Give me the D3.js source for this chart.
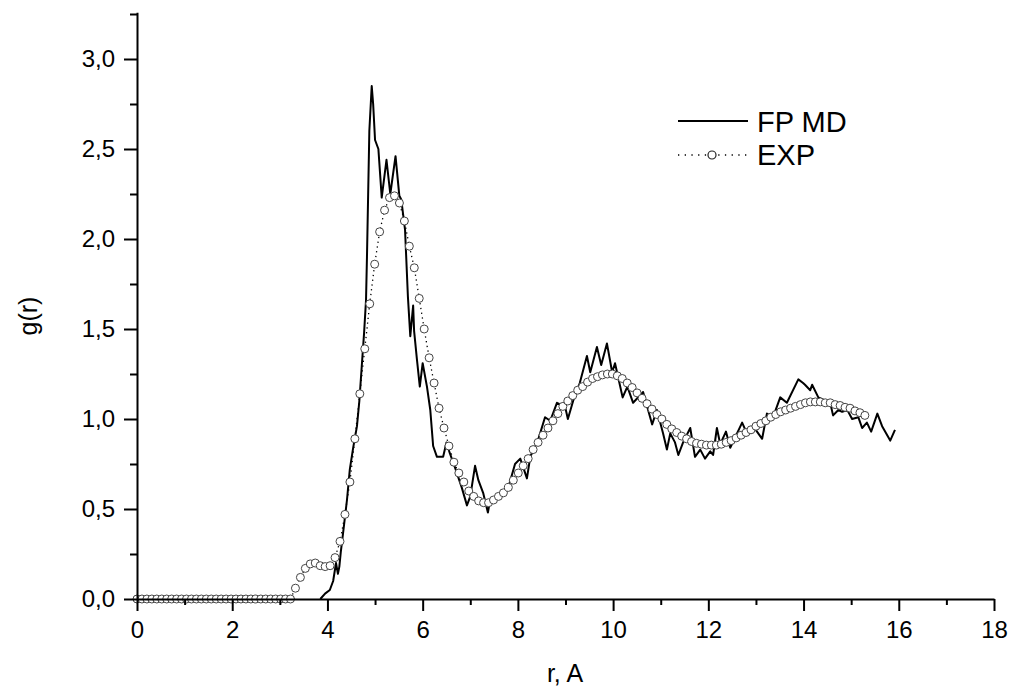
<!DOCTYPE html>
<html>
<head>
<meta charset="utf-8">
<script src="https://cdn.jsdelivr.net/npm/d3@7"></script>
<style>
  body { margin: 0; background: #fff; }
  text { font-family: "Liberation Sans", Arial, sans-serif; fill: #000; }
</style>
</head>
<body>
<script>
var width = 1009;
var height = 690;

// FP MD (simulation) curve, r in A
var mdR = [3.85, 3.95, 4.05, 4.12, 4.18, 4.22, 4.25, 4.28, 4.33, 4.41, 4.47, 4.54, 4.62, 4.67, 4.72, 4.77, 4.81,
  4.83, 4.88, 4.93, 4.96, 5.0, 5.07, 5.14, 5.24, 5.32, 5.43, 5.51, 5.55, 5.63, 5.69, 5.74, 5.8, 5.82, 5.88, 5.94,
  6.0, 6.09, 6.16, 6.22, 6.3, 6.43, 6.5, 6.57, 6.68, 6.82, 6.93, 7.0, 7.1, 7.17, 7.27, 7.37, 7.41, 7.59, 7.8,
  7.94, 8.05, 8.19, 8.26, 8.42, 8.57, 8.68, 8.82, 8.99, 9.05, 9.16, 9.3, 9.45, 9.52, 9.66, 9.75, 9.87, 9.98,
  10.04, 10.2, 10.3, 10.42, 10.63, 10.82, 10.92, 11.05, 11.13, 11.2, 11.3, 11.37, 11.47, 11.62, 11.72, 11.83,
  11.93, 12.04, 12.1, 12.18, 12.25, 12.37, 12.46, 12.71, 12.81, 12.94, 13.13, 13.23, 13.36, 13.51, 13.65,
  13.89, 13.99, 14.03, 14.14, 14.18, 14.31, 14.56, 14.62, 14.73, 14.81, 14.92, 15.02, 15.15, 15.23, 15.33,
  15.42, 15.55, 15.65, 15.82, 15.92];
var mdG = [0, 0.03, 0.05, 0.1, 0.2, 0.14, 0.18, 0.26, 0.37, 0.55, 0.72, 0.84, 0.96, 1.1, 1.29, 1.48, 1.66,
  1.9, 2.6, 2.85, 2.75, 2.55, 2.5, 2.23, 2.44, 2.25, 2.46, 2.24, 2.22, 2.05, 1.68, 1.46, 1.63, 1.49, 1.33, 1.18,
  1.31, 1.18, 1.05, 0.85, 0.79, 0.79, 0.87, 0.81, 0.73, 0.62, 0.52, 0.57, 0.74, 0.66, 0.59, 0.48, 0.54, 0.57, 0.62,
  0.75, 0.78, 0.67, 0.79, 0.88, 1.01, 0.99, 1.09, 1.07, 1.0, 1.1, 1.2, 1.35, 1.26, 1.4, 1.3, 1.42, 1.26,
  1.31, 1.12, 1.18, 1.09, 1.15, 0.97, 1.05, 0.92, 0.83, 0.92, 0.87, 0.8, 0.87, 0.95, 0.79, 0.83,
  0.78, 0.82, 0.8, 0.95, 0.86, 0.93, 0.84, 0.98, 0.92, 0.96, 0.89, 1.03, 1.01, 1.12, 1.09,
  1.22, 1.2, 1.19, 1.16, 1.19, 1.12, 1.09, 1.02, 1.05, 1.04, 1.05, 1.0, 1.01, 0.95, 0.98,
  0.93, 1.03, 0.96, 0.88, 0.94];

// EXP points, sampled every 0.104 A from r = 0
var expStep = 0.104;
var expG = [0, 0, 0, 0, 0, 0, 0, 0, 0, 0, 0, 0, 0, 0, 0, 0, 0, 0, 0, 0, 0, 0, 0, 0, 0, 0, 0, 0, 0, 0, 0, 0,
  0.06, 0.12, 0.17, 0.195, 0.2, 0.185, 0.18, 0.185, 0.23, 0.32, 0.47, 0.65, 0.89, 1.14, 1.39, 1.64, 1.86,
  2.04, 2.16, 2.23, 2.24, 2.2, 2.1, 1.96, 1.84, 1.67, 1.5, 1.34, 1.2, 1.06, 0.95, 0.85, 0.76, 0.7, 0.65, 0.6,
  0.57, 0.545, 0.535, 0.535, 0.55, 0.57, 0.59, 0.62, 0.66, 0.7, 0.74, 0.78, 0.83, 0.87, 0.91, 0.95, 0.99,
  1.03, 1.07, 1.1, 1.13, 1.16, 1.18, 1.205, 1.225, 1.235, 1.245, 1.25, 1.25, 1.24, 1.225, 1.2, 1.175, 1.145,
  1.115, 1.085, 1.055, 1.025, 1.0, 0.97, 0.945, 0.925, 0.905, 0.89, 0.875, 0.865, 0.86, 0.855, 0.855, 0.855,
  0.86, 0.87, 0.88, 0.895, 0.91, 0.925, 0.94, 0.96, 0.975, 0.99, 1.01, 1.025, 1.04, 1.05, 1.06, 1.07, 1.08,
  1.09, 1.095, 1.095, 1.095, 1.09, 1.09, 1.08, 1.075, 1.065, 1.06, 1.045, 1.035, 1.02];

var xMajor = [0, 2, 4, 6, 8, 10, 12, 14, 16, 18];
var xMinor = [1, 3, 5, 7, 9, 11, 13, 15, 17];
var yMajor = [0, 0.5, 1.0, 1.5, 2.0, 2.5, 3.0];
var yMinor = [0.25, 0.75, 1.25, 1.75, 2.25, 2.75, 3.25];
var seriesNames = ["FP MD", "EXP"];

var x = d3.scaleLinear().domain([0, 18]).range([137, 994]);
var y = d3.scaleLinear().domain([0, 3.26]).range([599, 12.2]);
var fmt = function(d) { return d3.format(".1f")(d).replace(".", ","); };

var svg = d3.select("body")
            .append("svg")
            .attr("width", width)
            .attr("height", height);

svg.append("rect").attr("width", width).attr("height", height).attr("fill", "#fff");

// data first, axes drawn over
var md = mdR.map(function(r, i) { return [r, mdG[i]]; });
var exp = expG.map(function(g, i) { return [i * expStep, g]; });

svg.append("path")
  .datum(exp)
  .attr("fill", "none")
  .attr("stroke", "#000")
  .attr("stroke-width", 1.3)
  .attr("stroke-dasharray", "1.3,3.5")
  .attr("d", d3.line().x(function(d) { return x(d[0]); }).y(function(d) { return y(d[1]); }));

svg.append("path")
  .datum(md)
  .attr("fill", "none")
  .attr("stroke", "#000")
  .attr("stroke-width", 2)
  .attr("stroke-linejoin", "round")
  .attr("d", d3.line().x(function(d) { return x(d[0]); }).y(function(d) { return y(d[1]); }));

svg.append("g").selectAll("circle")
  .data(exp)
  .enter().append("circle")
  .attr("cx", function(d) { return x(d[0]); })
  .attr("cy", function(d) { return y(d[1]); })
  .attr("r", 4)
  .attr("fill", "#fff")
  .attr("stroke", "#444")
  .attr("stroke-width", 1);

// x axis
svg.append("g")
  .attr("transform", "translate(0,599)")
  .call(d3.axisBottom(x).tickValues(xMajor).tickSize(12).tickSizeOuter(0).tickPadding(10).tickFormat(d3.format("d")));
svg.append("g")
  .attr("transform", "translate(0,599)")
  .call(d3.axisBottom(x).tickValues(xMinor).tickSize(6).tickSizeOuter(0).tickFormat(""))
  .select(".domain").remove();

// y axis
svg.append("g")
  .attr("transform", "translate(137,0)")
  .call(d3.axisLeft(y).tickValues(yMajor).tickSize(13).tickSizeOuter(0).tickPadding(9).tickFormat(fmt));
svg.append("g")
  .attr("transform", "translate(137,0)")
  .call(d3.axisLeft(y).tickValues(yMinor).tickSize(7).tickSizeOuter(0).tickFormat(""))
  .select(".domain").remove();

svg.selectAll(".domain").attr("stroke-width", 2);
svg.selectAll(".tick line").attr("stroke-width", 2);
svg.selectAll(".tick text").attr("font-size", 24).attr("fill", "#000")
  .attr("font-family", "'Liberation Sans', Arial, sans-serif");

// axis titles
svg.append("text")
  .attr("x", 565).attr("y", 682)
  .attr("text-anchor", "middle")
  .attr("font-size", 25)
  .text("r, A");
svg.append("text")
  .attr("transform", "translate(37,316) rotate(-90)")
  .attr("text-anchor", "middle")
  .attr("font-size", 25)
  .text("g(r)");

// legend
var legend = svg.append("g");
legend.append("line")
  .attr("x1", 678).attr("x2", 748).attr("y1", 121).attr("y2", 121)
  .attr("stroke", "#000").attr("stroke-width", 2);
legend.append("line")
  .attr("x1", 678).attr("x2", 748).attr("y1", 155).attr("y2", 155)
  .attr("stroke", "#000").attr("stroke-width", 1.3).attr("stroke-dasharray", "1.3,5.4");
legend.append("circle")
  .attr("cx", 712).attr("cy", 155).attr("r", 4)
  .attr("fill", "#fff").attr("stroke", "#222").attr("stroke-width", 1.2);
legend.selectAll("text.lbl")
  .data(seriesNames)
  .enter().append("text")
  .attr("class", "lbl")
  .attr("x", 757)
  .attr("y", function(d, i) { return 132 + i * 33; })
  .attr("font-size", 29)
  .text(function(d) { return d; });
</script>
</body>
</html>
